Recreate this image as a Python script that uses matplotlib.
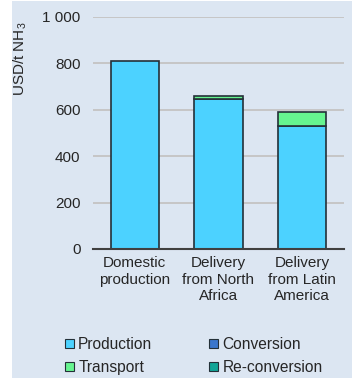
import matplotlib
matplotlib.use("Agg")
import matplotlib.pyplot as plt
from matplotlib.patches import Rectangle, Patch
import numpy as np

plt.rcParams['font.family'] = ['Liberation Sans', 'DejaVu Sans']
plt.rcParams['mathtext.fontset'] = 'custom'
plt.rcParams['mathtext.rm'] = 'Liberation Sans'
plt.rcParams['mathtext.it'] = 'Liberation Sans'

categories = ["Domestic\nproduction", "Delivery\nfrom North\nAfrica", "Delivery\nfrom Latin\nAmerica"]
production = [810, 645, 529]
conversion = [0, 0, 0]
transport = [0, 16, 60]
reconversion = [0, 0, 0]
yticks = [0, 200, 400, 600, 800, 1000]
ytick_labels = ["0", "200", "400", "600", "800", "1 000"]

colors = {
    "Production": "#4cd2ff",
    "Conversion": "#3a76cc",
    "Transport": "#66f590",
    "Re-conversion": "#12a597",
}
bg = "#dce6f2"
text_col = "#262626"
edge = "#243038"
fs = 11

fig = plt.figure(figsize=(3.52, 3.78), dpi=100)
fig.patch.set_facecolor("white")
fig.patches.append(Rectangle((12 / 352, 0), 1 - 12 / 352, 1 - 1 / 378,
                             transform=fig.transFigure, facecolor=bg,
                             edgecolor="none", zorder=-10))

ax = fig.add_axes([93 / 352, 1 - 249 / 378, (344 - 93) / 352, (249 - 17) / 378])
ax.set_facecolor("none")

x = np.arange(len(categories))
w = 0.575
series = [("Production", production), ("Conversion", conversion),
          ("Transport", transport), ("Re-conversion", reconversion)]
bottom = np.zeros(len(categories))
for name, vals in series:
    vals = np.array(vals, dtype=float)
    mask = vals > 0
    ax.bar(x[mask], vals[mask], w, bottom=bottom[mask], color=colors[name],
           edgecolor=edge, linewidth=1.2, zorder=3)
    bottom += vals

ax.set_xlim(-0.5, 2.5)
ax.set_ylim(0, 1000)
ax.set_yticks(yticks)
ax.set_yticklabels(ytick_labels)
ax.set_xticks(x)
ax.set_xticklabels(categories, linespacing=1.25)
ax.tick_params(axis="both", length=0, labelsize=fs, colors=text_col)
ax.tick_params(axis="y", pad=9)
ax.tick_params(axis="x", pad=5)
ax.yaxis.grid(True, color="#c6c6c6", linewidth=1.4, zorder=0)
for s in ["top", "right", "left"]:
    ax.spines[s].set_visible(False)
ax.spines["bottom"].set_color("#404040")
ax.spines["bottom"].set_linewidth(1.5)
ax.spines["bottom"].set_zorder(4)

fig.text(20 / 352, 1 - 22 / 378, "USD/t NH$_3$", rotation=90, ha="center",
         va="top", fontsize=fs, color=text_col)

order = ["Production", "Transport", "Conversion", "Re-conversion"]
handles = [Patch(facecolor=colors[n], edgecolor=edge, linewidth=0.8) for n in order]
leg = fig.legend(handles, order, ncol=2, loc="upper left",
                 bbox_to_anchor=(65 / 352, 1 - 337 / 378),
                 frameon=False, fontsize=11.2, handlelength=0.55, handleheight=0.55,
                 handletextpad=0.3, columnspacing=3.65, labelspacing=0.52,
                 borderpad=0, borderaxespad=0)
for t in leg.get_texts():
    t.set_color(text_col)

fig.savefig("out.png", dpi=100, facecolor=fig.get_facecolor())
